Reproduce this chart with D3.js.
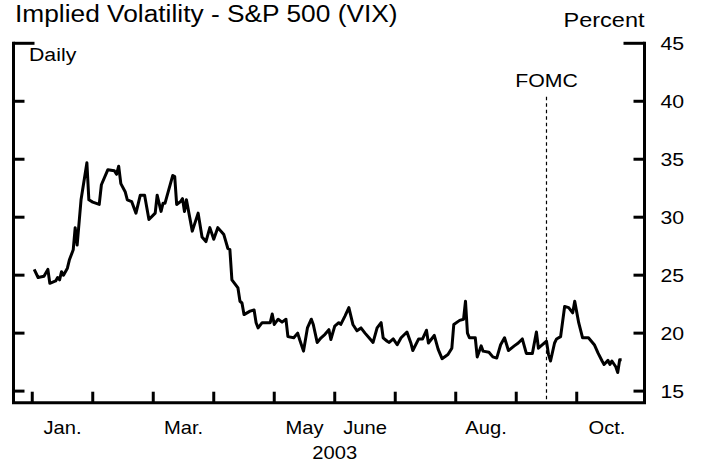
<!DOCTYPE html>
<html>
<head>
<meta charset="utf-8">
<script src="https://cdn.jsdelivr.net/npm/d3@7"></script>
<style>
    body { margin: 0; background: #fff; }
    svg { display: block; font-family: "Liberation Sans", Arial, Helvetica, sans-serif; }
</style>
</head>
<body>
<div id="canvas"></div>
<script>
// month labels sit between the month ticks
let labelMonths = [0, 2, 4, 5, 7, 9];
let labelText = ["Jan.", "Mar.", "May", "June", "Aug.", "Oct."];
let tickMonths = [0, 1, 2, 3, 4, 5, 6, 7, 8, 9];
let yTicks = [15, 20, 25, 30, 35, 40, 45];
let year = 2003;
let fomcDate = "09-16";

// VIX daily close
let vixDates = [
    "01-02", "01-04", "01-07", "01-09", "01-10", "01-13", "01-14", "01-15", "01-16", "01-17",
    "01-19", "01-20", "01-22", "01-23", "01-24", "01-26", "01-29", "01-30",
    "02-01", "02-04", "02-05", "02-08", "02-11", "02-12", "02-13", "02-14", "02-16", "02-17",
    "02-19", "02-21", "02-23", "02-25", "02-27",
    "03-02", "03-03", "03-05", "03-06", "03-07", "03-11", "03-12", "03-13", "03-15", "03-16",
    "03-17", "03-18", "03-21", "03-24", "03-26", "03-28", "03-30",
    "04-01", "04-03", "04-06", "04-08", "04-09", "04-10", "04-13", "04-14", "04-15", "04-16",
    "04-19", "04-21", "04-22", "04-23", "04-25", "04-29", "04-30",
    "05-01", "05-03", "05-05", "05-07", "05-08", "05-11", "05-13", "05-14", "05-16", "05-18",
    "05-20", "05-21", "05-23", "05-25", "05-27", "05-29", "05-30",
    "06-01", "06-03", "06-04", "06-06", "06-08", "06-10", "06-12", "06-14", "06-16", "06-18",
    "06-20", "06-22", "06-24", "06-25", "06-27", "06-28", "06-30",
    "07-02", "07-04", "07-07", "07-09", "07-10", "07-13", "07-15", "07-17", "07-18", "07-21",
    "07-23", "07-25", "07-28", "07-30", "07-31",
    "08-03", "08-05", "08-06", "08-07", "08-08", "08-11", "08-12", "08-14", "08-15", "08-18",
    "08-20", "08-22", "08-24", "08-26", "08-28", "08-31",
    "09-02", "09-04", "09-06", "09-09", "09-11", "09-12", "09-14", "09-16", "09-17", "09-18",
    "09-20", "09-21", "09-23", "09-25", "09-27", "09-29", "09-30",
    "10-02", "10-04", "10-07", "10-10", "10-12", "10-14", "10-15", "10-17", "10-18", "10-19",
    "10-21", "10-22", "10-23", "10-24"
];
let vixValues = [
    25.5, 24.8, 24.9, 25.5, 24.3, 24.5, 24.8, 24.6, 25.3, 25.0,
    25.6, 26.3, 27.2, 29.1, 27.6, 31.5, 34.7, 31.5,
    31.3, 31.1, 32.8, 34.1, 34.0, 33.7, 34.4, 32.9, 32.2, 31.5,
    31.35, 30.35, 31.9, 31.9, 29.8,
    30.35, 31.9, 30.5, 31.2, 31.2, 33.6, 33.5, 31.1, 31.35, 31.6,
    30.5, 31.5, 28.8, 30.35, 28.3, 27.9, 29.1,
    28.1, 29.1, 28.5, 27.3, 27.2, 24.6, 23.9, 22.75, 22.6, 21.6,
    21.9, 22.0, 20.9, 20.45, 20.9, 20.9, 21.65,
    20.75, 21.2, 20.95, 21.2, 19.7, 19.6, 20.0, 19.45, 18.45, 20.45,
    21.2, 20.75, 19.2, 19.6, 19.9, 20.3, 19.45,
    20.6, 20.9, 20.75, 21.45, 22.2, 20.75, 20.2, 20.45, 20.0, 19.6,
    19.2, 20.45, 20.9, 19.6, 19.3, 19.2, 19.5,
    19.0, 19.6, 20.1, 19.15, 18.5, 19.5, 19.5, 20.25, 19.15, 19.8,
    18.6, 17.8, 18.15, 18.7, 20.75,
    21.1, 21.2, 22.75, 20.0, 19.6, 19.6, 17.95, 18.9, 18.45, 18.35,
    17.95, 17.85, 19.0, 19.6, 18.5, 18.9,
    19.15, 19.5, 18.25, 18.25, 20.1, 18.7, 19.0, 19.3, 18.15, 17.6,
    19.15, 19.5, 19.7, 22.3, 22.2, 21.75, 22.75,
    20.9, 19.6, 19.6, 19.0, 18.25, 17.6, 17.3, 17.65, 17.3, 17.6,
    17.1, 16.6, 17.7, 17.7
];

let parseDate = d3.timeParse("%Y-%m-%d");

// every month gets the same width on this chart
function monthPos(md) {
    let d = parseDate(year + "-" + md);
    let daysInMonth = new Date(year, d.getMonth() + 1, 0).getDate();
    return d.getMonth() + (d.getDate() - 1) / daysInMonth;
}

let vixData = vixDates.map((md, i) => ({ m: monthPos(md), v: vixValues[i] }));

let width = 704, height = 463;
let margin = { left: 13.5, right: 644.5, top: 43.3, bottom: 402.7 };

let x = d3.scaleLinear().domain([-0.31, 10.12]).range([margin.left, margin.right]);
let y = d3.scaleLinear().domain([14, 45]).range([margin.bottom, margin.top]);

let svg = d3.select("#canvas")
    .append("svg")
    .attr("width", width)
    .attr("height", height);

// the original text is a bit wider than Arial
function label(g, tx, ty, str, size, anchor) {
    return g.append("text")
        .attr("transform", "translate(" + tx + "," + ty + ") scale(1.12,1)")
        .attr("text-anchor", anchor || "start")
        .attr("font-size", size)
        .attr("fill", "#000")
        .text(str);
}

// frame: left, bottom, right lines
let frame = svg.append("g")
    .attr("stroke", "#000")
    .attr("stroke-width", 3)
    .attr("fill", "none");

frame.append("path")
    .attr("d", d3.line()([
        [margin.left, margin.top - 1.5], [margin.left, margin.bottom],
        [margin.right, margin.bottom], [margin.right, margin.top - 1.5]
    ]))
    .attr("stroke-linejoin", "miter");

// y ticks on both sides, the top one is longer
frame.selectAll(".ytl")
    .data(yTicks)
    .join("line")
    .attr("class", "ytl")
    .attr("x1", margin.left)
    .attr("x2", d => d === 45 ? margin.left + 21 : margin.left + 11)
    .attr("y1", d => y(d))
    .attr("y2", d => y(d));

frame.selectAll(".ytr")
    .data(yTicks)
    .join("line")
    .attr("class", "ytr")
    .attr("x1", margin.right)
    .attr("x2", d => d === 45 ? margin.right - 21 : margin.right - 11)
    .attr("y1", d => y(d))
    .attr("y2", d => y(d));

// month ticks pointing up from the bottom
frame.selectAll(".xt")
    .data(tickMonths)
    .join("line")
    .attr("class", "xt")
    .attr("x1", d => x(d))
    .attr("x2", d => x(d))
    .attr("y1", margin.bottom)
    .attr("y2", margin.bottom - 11);

// FOMC marker
let fx = x(monthPos(fomcDate));
svg.append("line")
    .attr("x1", fx)
    .attr("x2", fx)
    .attr("y1", y(40.4))
    .attr("y2", margin.bottom)
    .attr("stroke", "#000")
    .attr("stroke-width", 1.2)
    .attr("stroke-dasharray", "3.5,3");

// the series
let line = d3.line()
    .x(d => x(d.m))
    .y(d => y(d.v));

svg.append("path")
    .datum(vixData)
    .attr("d", line)
    .attr("fill", "none")
    .attr("stroke", "#000")
    .attr("stroke-width", 3)
    .attr("stroke-linejoin", "round");

// texts
let txt = svg.append("g");
label(txt, 15, 22, "Implied Volatility - S&P 500 (VIX)", 23.5);
label(txt, margin.right, 27, "Percent", 21, "end");
label(txt, 29, 61, "Daily", 19);
label(txt, fx, 87, "FOMC", 19, "middle");

yTicks.forEach(t => {
    label(txt, margin.right + 16, y(t) + 7, String(t), 19);
});

labelMonths.forEach((m, i) => {
    label(txt, x(m + 0.5), 434, labelText[i], 18, "middle");
});

label(txt, (x(0) + x(10)) / 2, 459, String(year), 18, "middle");
</script>
</body>
</html>
